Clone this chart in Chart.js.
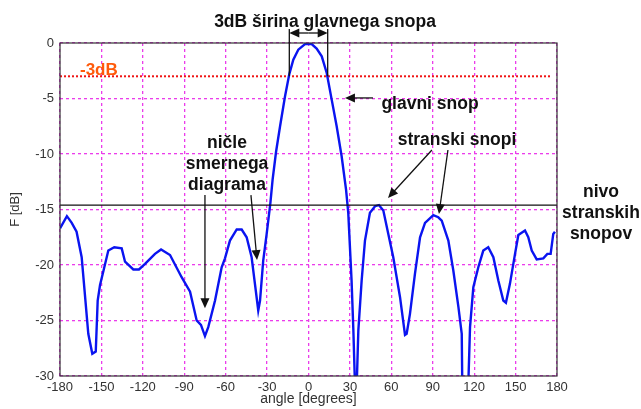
<!DOCTYPE html>
<html>
<head>
<meta charset="utf-8">
<script src="https://cdn.jsdelivr.net/npm/chart.js@4.4.1/dist/chart.umd.min.js"></script>
<style>
  body { margin: 0; background: #fff; }
</style>
</head>
<body>
<canvas id="beamPatternChart" width="641" height="409"></canvas>
<script>
/* Smerni diagram - podatki */
const angles = [-180, -175, -171.5, -168, -164.3, -159.5, -156.6, -154.1, -152.7, -151, -147.9, -145, -140.7, -135.3, -132.9, -126.9, -122.8, -118.4, -111.2, -106.8, -100.3, -91.9, -85.8, -81, -77.9, -75, -72.6, -67.7, -62.9, -60.5, -56.9, -52, -48.4, -44.8, -41.2, -38.8, -36.4, -35.1, -32.8, -30.3, -27.6, -26, -23.5, -20.6, -17, -13.9, -11, -7.4, -2.5, 2.3, 5.9, 9.6, 13.2, 16.8, 20.4, 24, 27.2, 28.8, 31.2, 32.5, 33.7, 34.9, 36.1, 38.5, 40.9, 44.5, 48.2, 51, 54.2, 57.8, 61.4, 66.3, 69.9, 71.1, 73.5, 77.1, 80.8, 84.4, 90.4, 94, 96.5, 101.3, 104.9, 108.6, 111, 111.4, 115.7, 117, 119.4, 123, 126.6, 130.2, 133.9, 137.5, 141.1, 143, 145.9, 149.6, 152, 156.8, 159.2, 161.7, 165.3, 170.1, 173, 175.4, 177.3, 178.5];
const gainDb = [-16.7, -15.6, -16.2, -17.0, -19.3, -26.2, -28.0, -27.8, -23.2, -21.8, -20.2, -18.7, -18.4, -18.5, -19.7, -20.4, -20.4, -19.9, -19.0, -18.6, -19.1, -21.1, -22.4, -25.0, -25.4, -26.4, -25.6, -23.2, -20.2, -19.4, -17.8, -16.8, -16.8, -17.5, -19.3, -21.7, -24.1, -23.2, -19.6, -17.2, -14.4, -12.3, -9.8, -7.5, -4.8, -2.8, -1.5, -0.6, -0.1, -0.1, -0.5, -1.2, -2.7, -5.1, -7.5, -10.2, -13.2, -15.3, -21.4, -25.9, -31, -31, -25.9, -21.4, -17.8, -15.3, -14.7, -14.6, -15.1, -17.2, -19.3, -22.9, -26.3, -26.2, -24.4, -20.8, -17.5, -16.2, -15.5, -15.7, -16.0, -17.8, -20.5, -23.8, -26.2, -31, -31, -25.6, -22.0, -20.2, -18.7, -18.4, -19.3, -21.4, -23.2, -23.4, -21.7, -19.0, -17.3, -16.9, -17.5, -18.7, -19.5, -19.4, -19.0, -19.0, -17.2, -17.0];

const halfPowerLevel = -3;      // -3dB
const sideLobeLevel = -14.6;    // nivo stranskih snopov
const mainLobeEdges = [-13.9, 13.9];

const xTicks = [-180, 180, 30];
const yTicks = [-30, 0, 5];

const curvePoints = angles.map((a, i) => ({ x: a, y: gainDb[i] }));

const font = 'Liberation Sans, Arial, sans-serif';

function arrow(c, x1, y1, x2, y2) {
  const ang = Math.atan2(y2 - y1, x2 - x1);
  const len = 10, w = 4.5;
  c.beginPath();
  c.moveTo(x1, y1);
  c.lineTo(x2 - Math.cos(ang) * len * 0.8, y2 - Math.sin(ang) * len * 0.8);
  c.stroke();
  c.beginPath();
  c.moveTo(x2, y2);
  c.lineTo(x2 - Math.cos(ang) * len - Math.sin(ang) * w, y2 - Math.sin(ang) * len + Math.cos(ang) * w);
  c.lineTo(x2 - Math.cos(ang) * len + Math.sin(ang) * w, y2 - Math.sin(ang) * len - Math.cos(ang) * w);
  c.closePath();
  c.fill();
}

/* Napisi in puscice */
const annotations = {
  id: 'annotations',
  afterDraw(chart) {
    const c = chart.ctx;
    const a = chart.chartArea;
    const sx = chart.scales.x, sy = chart.scales.y;
    const px = v => sx.getPixelForValue(v);
    const py = v => sy.getPixelForValue(v);

    c.save();
    // okvir
    c.strokeStyle = '#333';
    c.lineWidth = 1.2;
    c.strokeRect(a.left, a.top, a.right - a.left, a.bottom - a.top);

    c.fillStyle = '#111';
    c.strokeStyle = '#111';
    c.lineWidth = 1.3;
    c.textAlign = 'center';
    c.textBaseline = 'middle';
    c.font = 'bold 17.5px ' + font;
    c.fillText('3dB širina glavnega snopa', 325, 22);

    // 3dB sirina
    const xl = px(mainLobeEdges[0]), xr = px(mainLobeEdges[1]);
    c.beginPath();
    c.moveTo(xl, a.top - 14); c.lineTo(xl, py(halfPowerLevel));
    c.moveTo(xr, a.top - 14); c.lineTo(xr, py(halfPowerLevel));
    c.stroke();
    const ym = a.top - 10;
    arrow(c, (xl + xr) / 2, ym, xl, ym);
    arrow(c, (xl + xr) / 2, ym, xr, ym);

    c.fillText('glavni snop', 430, 104);
    arrow(c, px(46.7), py(-4.95), px(26.4), py(-4.95));

    c.fillText('stranski snopi', 457, 140);
    arrow(c, px(89.4), py(-9.64), px(57.6), py(-13.96));
    arrow(c, px(101), py(-9.64), px(94.5), py(-15.4));

    c.fillText('ničle', 227, 143);
    c.fillText('smernega', 227, 164);
    c.fillText('diagrama', 227, 185);
    arrow(c, px(-75), py(-13.7), px(-75), py(-23.9));
    arrow(c, px(-41.7), py(-13.7), px(-37.3), py(-19.55));

    c.fillText('nivo', 601, 192);
    c.fillText('stranskih', 601, 213);
    c.fillText('snopov', 601, 234);

    c.fillStyle = '#ff5a0a';
    c.textAlign = 'left';
    c.font = 'bold 17px ' + font;
    c.fillText('-3dB', 80, 70);
    c.restore();
  }
};

const ctx = document.getElementById('beamPatternChart').getContext('2d');
const beamPatternChart = new Chart(ctx, {
  type: 'line',
  data: {
    datasets: [{
      label: 'F',
      data: curvePoints,
      borderColor: 'rgb(10, 20, 240)',
      borderWidth: 2.4,
      pointRadius: 0,
      tension: 0,
      order: 1
    }, {
      label: '-3dB',
      data: [{ x: xTicks[0], y: halfPowerLevel }, { x: 176, y: halfPowerLevel }],
      borderColor: 'rgb(240, 20, 20)',
      borderWidth: 2,
      borderDash: [2, 2],
      pointRadius: 0,
      order: 2
    }, {
      label: 'nivo',
      data: [{ x: xTicks[0], y: sideLobeLevel }, { x: xTicks[1], y: sideLobeLevel }],
      borderColor: '#111',
      borderWidth: 1.3,
      pointRadius: 0,
      order: 0
    }]
  },
  options: {
    responsive: false,
    animation: false,
    layout: {
      padding: { left: 0, top: 43, right: 84, bottom: 0 }
    },
    plugins: {
      legend: { display: false },
      tooltip: { enabled: false }
    },
    scales: {
      x: {
        type: 'linear',
        min: xTicks[0],
        max: xTicks[1],
        afterFit: s => { s.height = 33; },
        ticks: {
          stepSize: xTicks[2],
          padding: 4,
          color: '#333',
          font: { family: font, size: 13 }
        },
        grid: {
          color: 'rgb(235, 60, 235)',
          lineWidth: 1.3,
          drawTicks: false
        },
        border: { display: false, dash: [3, 3] },
        title: {
          display: true,
          text: 'angle [degrees]',
          color: '#333',
          padding: { top: 0, bottom: 1 },
          font: { family: font, size: 14 }
        }
      },
      y: {
        min: yTicks[0],
        max: yTicks[1],
        afterFit: s => { s.width = 60; },
        ticks: {
          stepSize: yTicks[2],
          padding: 6,
          color: '#333',
          font: { family: font, size: 13 }
        },
        grid: {
          color: 'rgb(235, 60, 235)',
          lineWidth: 1.3,
          drawTicks: false
        },
        border: { display: false, dash: [3, 3] },
        title: {
          display: true,
          text: 'F [dB]',
          color: '#333',
          padding: { top: 8, bottom: 0 },
          font: { family: font, size: 13 }
        }
      }
    }
  },
  plugins: [annotations]
});
</script>
</body>
</html>
